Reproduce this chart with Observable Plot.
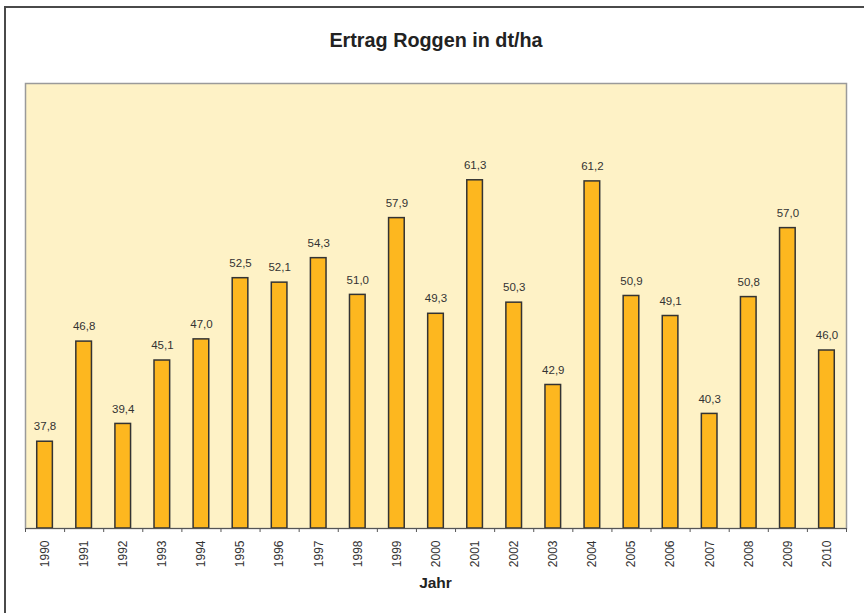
<!DOCTYPE html>
<html>
<head>
<meta charset="utf-8">
<script src="https://cdn.jsdelivr.net/npm/d3@7"></script>
<script src="https://cdn.jsdelivr.net/npm/@observablehq/plot@0.6"></script>
<style>
  html, body { margin: 0; padding: 0; background: #fff; overflow: hidden; }
  #wrap { position: relative; width: 864px; height: 613px; overflow: hidden; font-family: "Liberation Sans", Arial, sans-serif; }
  #border { position: absolute; left: 4px; top: 6px; width: 900px; height: 700px; border-left: 2px solid #4a4a4a; border-top: 2px solid #4a4a4a; }
  #title { position: absolute; left: 0; width: 872px; top: 29px; text-align: center; font-weight: bold; font-size: 19.8px; color: #222; }
  #xlabel { position: absolute; left: 0; width: 871px; top: 574px; text-align: center; font-weight: bold; font-size: 15.5px; color: #222; }
  #chart { position: absolute; left: 0; top: 0; }
</style>
</head>
<body>
<div id="wrap">
  <div id="border"></div>
  <div id="chart"></div>
  <div id="title">Ertrag Roggen in dt/ha</div>
  <div id="xlabel">Jahr</div>
</div>
<script>
const years = [1990, 1991, 1992, 1993, 1994, 1995, 1996, 1997, 1998, 1999, 2000,
               2001, 2002, 2003, 2004, 2005, 2006, 2007, 2008, 2009, 2010];
const ertrag = [37.8, 46.8, 39.4, 45.1, 47.0, 52.5, 52.1, 54.3, 51.0, 57.9, 49.3,
                61.3, 50.3, 42.9, 61.2, 50.9, 49.1, 40.3, 50.8, 57.0, 46.0];
const yDomain = [30, 70];

const data = years.map((year, i) => ({year, value: ertrag[i]}));
const boundaries = [...years.map(y => y - 0.5), years[years.length - 1] + 0.5];
const fmt = v => v.toFixed(1).replace(".", ",");
const half = 0.2;

const chart = Plot.plot({
  width: 864,
  height: 613,
  marginLeft: 25,
  marginRight: 18,
  marginTop: 83,
  marginBottom: 85,
  style: { fontFamily: "Liberation Sans, Arial, sans-serif", background: "transparent", overflow: "visible" },
  x: { type: "linear", domain: [years[0] - 0.5, years[years.length - 1] + 0.5] },
  y: { domain: yDomain, axis: null },
  marks: [
    Plot.frame({ fill: "#FEF2C6", stroke: "#9a9a9a", strokeWidth: 1.5 }),
    Plot.rectY(data, {
      x1: d => d.year - half, x2: d => d.year + half,
      y1: yDomain[0], y2: "value",
      fill: "#FDB71F", stroke: "#333", strokeWidth: 1.5
    }),
    Plot.text(data, {
      x: "year", y: "value", text: d => fmt(d.value),
      dy: -15, fontSize: 11.5, fill: "#333"
    }),
    Plot.ruleY([yDomain[0]], { stroke: "#555", strokeWidth: 1.2 }),
    Plot.axisX({ ticks: boundaries, tickSize: 4, tickFormat: () => "", stroke: "#555", label: null }),
    Plot.axisX({ ticks: years, tickSize: 0, tickPadding: 12, tickRotate: -90, tickFormat: d => String(d),
                 fontSize: 12, fill: "#333", label: null })
  ]
});
document.getElementById("chart").appendChild(chart);
</script>
</body>
</html>
